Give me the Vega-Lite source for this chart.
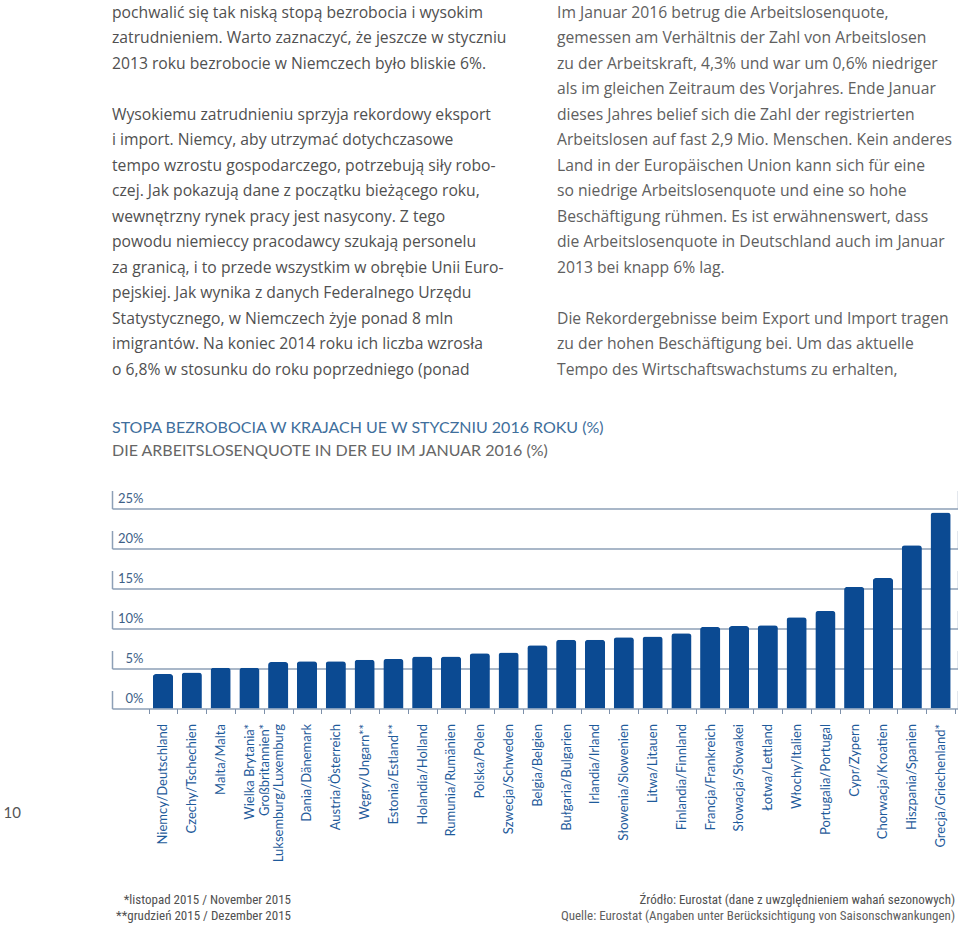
{
  "$schema": "https://vega.github.io/schema/vega-lite/v6.json",
  "background": "white",
  "padding": {"left": 3, "top": 0, "right": 0, "bottom": 0},
  "bounds": "flush",
  "spacing": 107.5,
  "config": {"view": {"stroke": null}, "font": "Lato"},
  "datasets": {
    "para": [
      {"col": "L", "line": 1, "text": "pochwalić się tak niską stopą bezrobocia i wysokim"},
      {"col": "L", "line": 2, "text": "zatrudnieniem. Warto zaznaczyć, że jeszcze w styczniu"},
      {"col": "L", "line": 3, "text": "2013 roku bezrobocie w Niemczech było bliskie 6%."},
      {"col": "L", "line": 5, "text": "Wysokiemu zatrudnieniu sprzyja rekordowy eksport"},
      {"col": "L", "line": 6, "text": "i import. Niemcy, aby utrzymać dotychczasowe"},
      {"col": "L", "line": 7, "text": "tempo wzrostu gospodarczego, potrzebują siły robo-"},
      {"col": "L", "line": 8, "text": "czej. Jak pokazują dane z początku bieżącego roku,"},
      {"col": "L", "line": 9, "text": "wewnętrzny rynek pracy jest nasycony. Z tego"},
      {"col": "L", "line": 10, "text": "powodu niemieccy pracodawcy szukają personelu"},
      {"col": "L", "line": 11, "text": "za granicą, i to przede wszystkim w obrębie Unii Euro-"},
      {"col": "L", "line": 12, "text": "pejskiej. Jak wynika z danych Federalnego Urzędu"},
      {"col": "L", "line": 13, "text": "Statystycznego, w Niemczech żyje ponad 8 mln"},
      {"col": "L", "line": 14, "text": "imigrantów. Na koniec 2014 roku ich liczba wzrosła"},
      {"col": "L", "line": 15, "text": "o 6,8% w stosunku do roku poprzedniego (ponad"},
      {"col": "R", "line": 1, "text": "Im Januar 2016 betrug die Arbeitslosenquote,"},
      {"col": "R", "line": 2, "text": "gemessen am Verhältnis der Zahl von Arbeitslosen"},
      {"col": "R", "line": 3, "text": "zu der Arbeitskraft, 4,3% und war um 0,6% niedriger"},
      {"col": "R", "line": 4, "text": "als im gleichen Zeitraum des Vorjahres. Ende Januar"},
      {"col": "R", "line": 5, "text": "dieses Jahres belief sich die Zahl der registrierten"},
      {"col": "R", "line": 6, "text": "Arbeitslosen auf fast 2,9 Mio. Menschen. Kein anderes"},
      {"col": "R", "line": 7, "text": "Land in der Europäischen Union kann sich für eine"},
      {"col": "R", "line": 8, "text": "so niedrige Arbeitslosenquote und eine so hohe"},
      {"col": "R", "line": 9, "text": "Beschäftigung rühmen. Es ist erwähnenswert, dass"},
      {"col": "R", "line": 10, "text": "die Arbeitslosenquote in Deutschland auch im Januar"},
      {"col": "R", "line": 11, "text": "2013 bei knapp 6% lag."},
      {"col": "R", "line": 13, "text": "Die Rekordergebnisse beim Export und Import tragen"},
      {"col": "R", "line": 14, "text": "zu der hohen Beschäftigung bei. Um das aktuelle"},
      {"col": "R", "line": 15, "text": "Tempo des Wirtschaftswachstums zu erhalten,"}
    ],
    "rates": [
      {"country": "Niemcy/Deutschland", "rate": 4.3},
      {"country": "Czechy/Tschechien", "rate": 4.5},
      {"country": "Malta/Malta", "rate": 5.1},
      {"country": "Wielka Brytania*/Großbritannien*", "rate": 5.1},
      {"country": "Luksemburg/Luxemburg", "rate": 5.8},
      {"country": "Dania/Dänemark", "rate": 5.9},
      {"country": "Austria/Österreich", "rate": 5.9},
      {"country": "Węgry/Ungarn**", "rate": 6.1},
      {"country": "Estonia/Estland**", "rate": 6.2},
      {"country": "Holandia/Holland", "rate": 6.5},
      {"country": "Rumunia/Rumänien", "rate": 6.5},
      {"country": "Polska/Polen", "rate": 6.9},
      {"country": "Szwecja/Schweden", "rate": 7.0},
      {"country": "Belgia/Belgien", "rate": 7.9},
      {"country": "Bułgaria/Bulgarien", "rate": 8.6},
      {"country": "Irlandia/Irland", "rate": 8.6},
      {"country": "Słowenia/Slowenien", "rate": 8.9},
      {"country": "Litwa/Litauen", "rate": 9.0},
      {"country": "Finlandia/Finnland", "rate": 9.4},
      {"country": "Francja/Frankreich", "rate": 10.2},
      {"country": "Słowacja/Słowakei", "rate": 10.3},
      {"country": "Łotwa/Lettland", "rate": 10.4},
      {"country": "Włochy/Italien", "rate": 11.4},
      {"country": "Portugalia/Portugal", "rate": 12.2},
      {"country": "Cypr/Zypern", "rate": 15.2},
      {"country": "Chorwacja/Kroatien", "rate": 16.3},
      {"country": "Hiszpania/Spanien", "rate": 20.4},
      {"country": "Grecja/Griechenland*", "rate": 24.5}
    ],
    "notes": [
      {"side": "L", "row": 1, "lang": "pl", "text": "*listopad 2015 / November 2015"},
      {"side": "L", "row": 2, "lang": "pl", "text": "**grudzień 2015 / Dezember 2015"},
      {"side": "R", "row": 1, "lang": "pl", "text": "Źródło: Eurostat (dane z uwzględnieniem wahań sezonowych)"},
      {"side": "R", "row": 2, "lang": "de", "text": "Quelle: Eurostat (Angaben unter Berücksichtigung von Saisonschwankungen)"}
    ]
  },
  "vconcat": [
    {
      "width": 445,
      "height": 382.5,
      "data": {"name": "para"},
      "mark": {"type": "text", "align": "left", "baseline": "middle", "font": "Open Sans", "fontSize": 15.7},
      "encoding": {
        "x": {"field": "col", "type": "nominal", "scale": {"type": "point", "domain": ["L", "R"], "padding": 0}, "axis": null},
        "y": {"field": "line", "type": "ordinal", "scale": {"type": "point", "domain": [1,2,3,4,5,6,7,8,9,10,11,12,13,14,15], "padding": 0.5}, "axis": null},
        "text": {"field": "text"},
        "color": {"field": "col", "type": "nominal", "scale": {"domain": ["L", "R"], "range": ["#505050", "#606060"]}, "legend": null}
      }
    },
    {
      "width": 846,
      "height": 218,
      "data": {"name": "rates"},
      "title": {
        "text": "STOPA BEZROBOCIA W KRAJACH UE W STYCZNIU 2016 ROKU (%)",
        "subtitle": "DIE ARBEITSLOSENQUOTE IN DER EU IM JANUAR 2016 (%)",
        "anchor": "start",
        "frame": "group",
        "font": "Lato",
        "fontSize": 16,
        "fontWeight": "normal",
        "color": "#3f6f9c",
        "subtitleFont": "Lato",
        "subtitleFontSize": 16,
        "subtitleColor": "#666666",
        "subtitlePadding": 7,
        "offset": 32
      },
      "resolve": {"axis": {"y": "independent"}},
      "layer": [
        {
          "mark": {"type": "bar", "color": "#0b4a92", "width": {"band": 0.7}, "cornerRadiusTopLeft": 3, "cornerRadiusTopRight": 3},
          "encoding": {
            "x": {
              "field": "country", "type": "nominal", "sort": null,
              "scale": {"type": "band", "paddingInner": 0, "paddingOuter": 0.6875, "align": 0.924},
              "axis": {
                "title": null, "labelAngle": -90, "labelFont": "Lato", "labelFontSize": 13,
                "labelColor": "#1f5b9b", "labelPadding": 10, "labelLineHeight": 15,
                "tickBand": "extent", "tickSize": 5, "tickColor": "#7d90aa", "tickWidth": 1,
                "domain": false, "grid": false,
                "labelExpr": "datum.label == 'Wielka Brytania*/Großbritannien*' ? ['Wielka Brytania*', 'Großbritannien*'] : datum.label"
              }
            },
            "y": {
              "field": "rate", "type": "quantitative",
              "scale": {"domain": [0, 27.25], "nice": false},
              "axis": {
                "orient": "left", "values": [0, 5, 10, 15, 20, 25],
                "labelExpr": "datum.value + '%'",
                "grid": true, "gridColor": "#8d9fb6", "gridWidth": 1.5,
                "ticks": false, "tickSize": 0,
                "labelAlign": "right", "labelPadding": -31, "labelBaseline": "bottom", "labelOffset": -3,
                "labelFont": "Lato", "labelFontSize": 13, "labelColor": "#3e5f87",
                "labelFlush": false, "labelOverlap": false,
                "domain": true, "domainDash": [18, 22], "domainColor": "#8d9fb6", "domainWidth": 1.5,
                "title": "10", "titleX": -109, "titleY": 322, "titleAngle": 0,
                "titleAlign": "left", "titleBaseline": "middle",
                "titleFont": "Lato", "titleFontSize": 15, "titleFontWeight": "normal", "titleColor": "#555555"
              }
            }
          }
        },
        {
          "mark": {"type": "rule", "opacity": 0},
          "encoding": {
            "y": {
              "field": "rate", "type": "quantitative",
              "axis": {
                "orient": "right", "labels": false, "ticks": false, "grid": false, "title": null,
                "domain": true, "domainDash": [18, 22], "domainColor": "#8d9fb6", "domainWidth": 1.5
              }
            }
          }
        }
      ]
    },
    {
      "width": 846,
      "height": 102.4,
      "data": {"name": "notes"},
      "mark": {"type": "text", "align": "right", "baseline": "middle", "font": "Roboto Condensed, Roboto", "fontSize": 13},
      "encoding": {
        "x": {"field": "side", "type": "nominal", "scale": {"type": "point", "domain": ["L", "R"], "padding": 0.137, "align": 0.9838}, "axis": null},
        "y": {"field": "row", "type": "ordinal", "scale": {"type": "point", "domain": [-4, -3, -2, -1, 0, 1, 2], "padding": 0.2, "align": 0.703}, "axis": null},
        "text": {"field": "text"},
        "color": {"field": "lang", "type": "nominal", "scale": {"domain": ["pl", "de"], "range": ["#2a5d8f", "#3c3c3c"]}, "legend": null}
      }
    }
  ]
}
